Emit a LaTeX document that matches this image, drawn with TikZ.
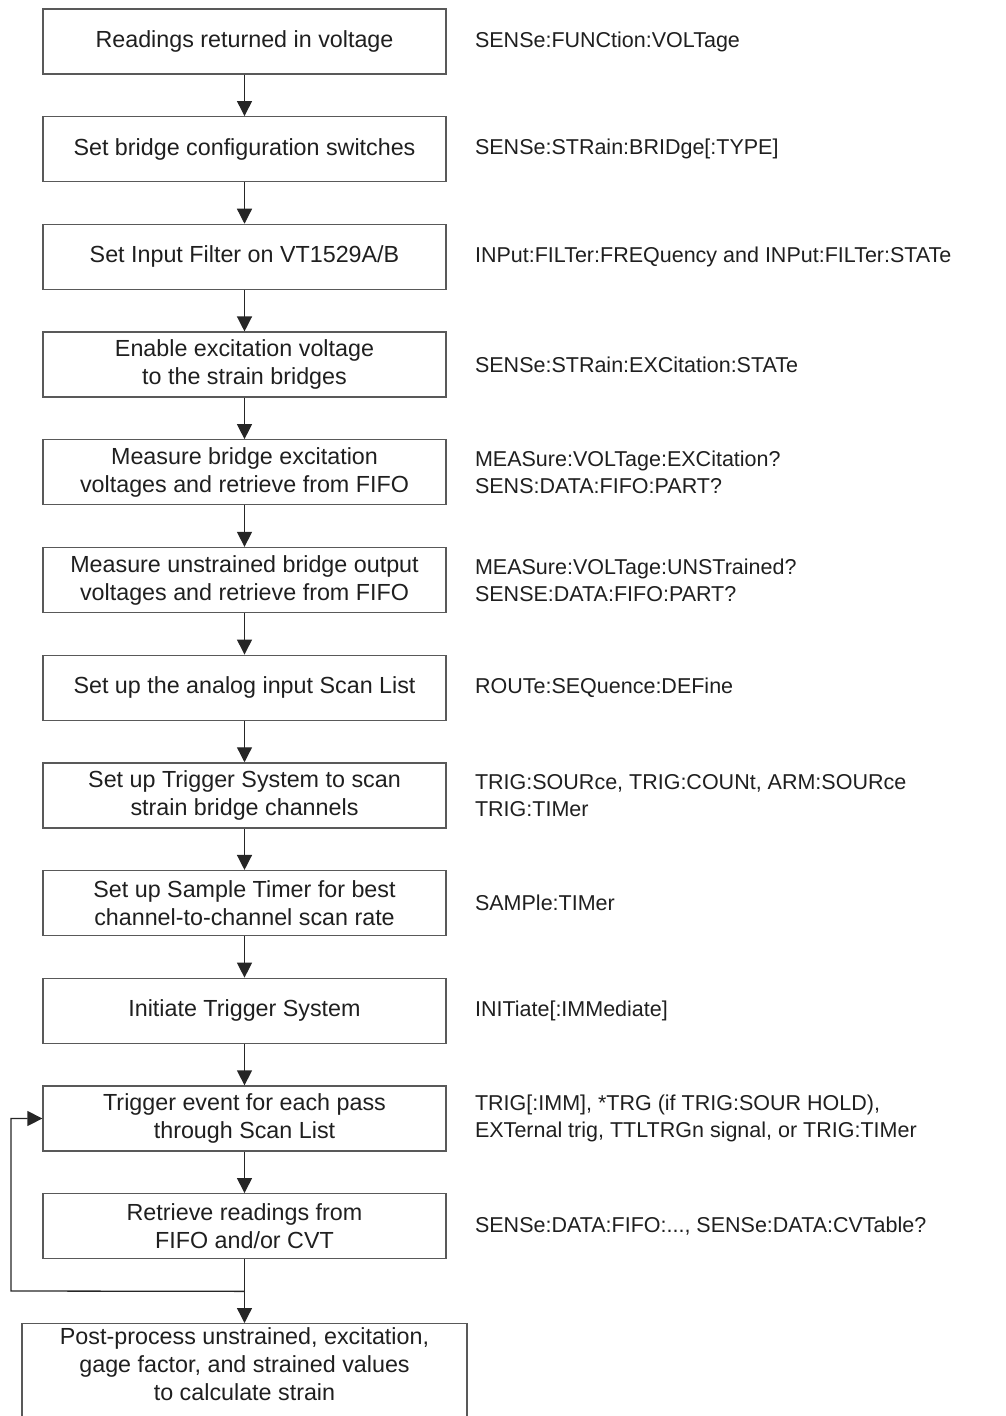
\documentclass[tikz,border=0pt]{standalone}
\usepackage{fontspec}
\setmainfont{Liberation Sans}
\usetikzlibrary{arrows.meta,calc}

\begin{document}
\begin{tikzpicture}[
    x=0.5pt,
    y=-0.5pt,
    >={Triangle[length=7.5pt,width=7.5pt]},
    line join=miter,
    stepbox/.style={draw=black!65, line width=0.65pt, minimum width=201.5pt,
        minimum height=32.5pt, inner sep=0pt, align=center, text=black!88,
        font=\fontsize{11.65}{14}\selectfont},
    cmd/.style={anchor=west, inner sep=0pt, align=left, text=black!88,
        font=\fontsize{10.75}{13.5}\selectfont},
    flow/.style={->, draw=black!85, line width=0.65pt}
]

% -----------------------
% Parameters
% -----------------------
\def\pitch{107.7}
\def\gap{28}

\useasboundingbox (0,0) rectangle (1005,1416);

% -----------------------
% Steps
% -----------------------
\node[stepbox] (b1) at (244.5,41.5) {Readings returned in voltage};
\node[stepbox] (b2) at ($(b1)+(0,\pitch)$) {Set bridge configuration switches};
\node[stepbox] (b3) at ($(b2)+(0,\pitch)$) {Set Input Filter on VT1529A/B};
\node[stepbox] (b4) at ($(b3)+(0,\pitch)$) {Enable excitation voltage\\to the strain bridges};
\node[stepbox] (b5) at ($(b4)+(0,\pitch)$) {Measure bridge excitation\\voltages and retrieve from FIFO};
\node[stepbox] (b6) at ($(b5)+(0,\pitch)$) {Measure unstrained bridge output\\voltages and retrieve from FIFO};
\node[stepbox] (b7) at ($(b6)+(0,\pitch)$) {Set up the analog input Scan List};
\node[stepbox] (b8) at ($(b7)+(0,\pitch)$) {Set up Trigger System to scan\\strain bridge channels};
\node[stepbox] (b9) at ($(b8)+(0,\pitch)$) {Set up Sample Timer for best\\channel-to-channel scan rate};
\node[stepbox] (b10) at ($(b9)+(0,\pitch)$) {Initiate Trigger System};
\node[stepbox] (b11) at ($(b10)+(0,\pitch)$) {Trigger event for each pass\\through Scan List};
\node[stepbox] (b12) at ($(b11)+(0,\pitch)$) {Retrieve readings from\\FIFO and/or CVT};

% last box runs off the page
\node[stepbox, anchor=north, minimum width=222.5pt, inner ysep=2pt, text depth=14pt]
    (post) at (244.5,1323) {Post-process unstrained, excitation,\\gage factor, and strained values\\to calculate strain};

% -----------------------
% Commands
% -----------------------
\node[cmd] (c1) at ($(b1.east)+(\gap,0)$) {SENSe:FUNCtion:VOLTage};
\node[cmd] (c2) at ($(b2.east)+(\gap,0)$) {SENSe:STRain:BRIDge[:TYPE]};
\node[cmd] (c3) at ($(b3.east)+(\gap,0)$) {INPut:FILTer:FREQuency and INPut:FILTer:STATe};
\node[cmd] (c4) at ($(b4.east)+(\gap,0)$) {SENSe:STRain:EXCitation:STATe};
\node[cmd] (c5) at ($(b5.east)+(\gap,0)$) {MEASure:VOLTage:EXCitation?\\SENS:DATA:FIFO:PART?};
\node[cmd] (c6) at ($(b6.east)+(\gap,0)$) {MEASure:VOLTage:UNSTrained?\\SENSE:DATA:FIFO:PART?};
\node[cmd] (c7) at ($(b7.east)+(\gap,0)$) {ROUTe:SEQuence:DEFine};
\node[cmd] (c8) at ($(b8.east)+(\gap,0)$) {TRIG:SOURce, TRIG:COUNt, ARM:SOURce\\TRIG:TIMer};
\node[cmd] (c9) at ($(b9.east)+(\gap,0)$) {SAMPle:TIMer};
\node[cmd] (c10) at ($(b10.east)+(\gap,0)$) {INITiate[:IMMediate]};
\node[cmd] (c11) at ($(b11.east)+(\gap,0)$) {TRIG[:IMM], *TRG (if TRIG:SOUR HOLD),\\EXTernal trig, TTLTRGn signal, or TRIG:TIMer};
\node[cmd] (c12) at ($(b12.east)+(\gap,0)$) {SENSe:DATA:FIFO:..., SENSe:DATA:CVTable?};

% -----------------------
% Flow
% -----------------------
\draw[flow] (b1) -- (b2);
\draw[flow] (b2) -- (b3);
\draw[flow] (b3) -- (b4);
\draw[flow] (b4) -- (b5);
\draw[flow] (b5) -- (b6);
\draw[flow] (b6) -- (b7);
\draw[flow] (b7) -- (b8);
\draw[flow] (b8) -- (b9);
\draw[flow] (b9) -- (b10);
\draw[flow] (b10) -- (b11);
\draw[flow] (b11) -- (b12);
\draw[flow] (b12) -- (post);

% loop back
\coordinate (join) at ($(b12.south)+(0,32)$);
\coordinate (loopL) at (11,1291);
\draw[flow] (join) -- (loopL) |- (b11.west);

\end{tikzpicture}
\end{document}
